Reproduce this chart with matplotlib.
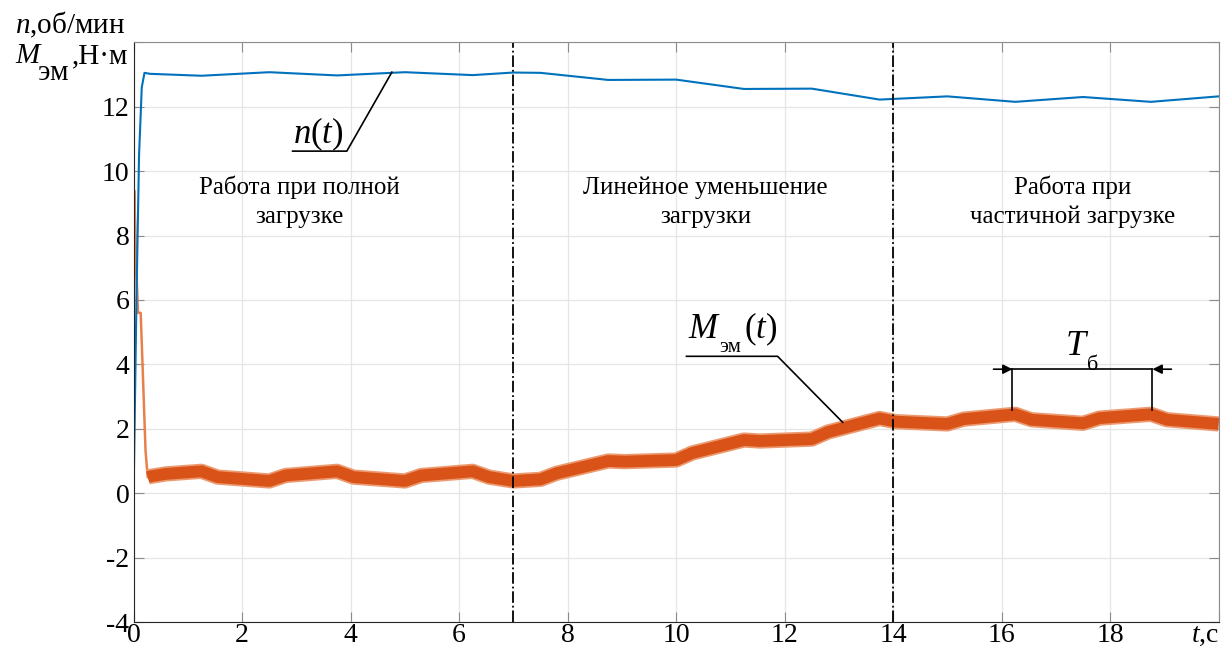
import matplotlib
matplotlib.use("Agg")
import matplotlib.pyplot as plt

plt.rcParams['font.family'] = ['Liberation Serif', 'DejaVu Serif']
plt.rcParams['mathtext.fontset'] = 'custom'
plt.rcParams['mathtext.rm'] = 'Liberation Serif'
plt.rcParams['mathtext.it'] = 'Liberation Serif:italic'

# speed n(t)
t_n = [0, 0.05, 0.1, 0.15, 0.2, 0.3, 1.25, 2.5, 3.75, 5.0, 6.25, 7.0, 7.5,
       8.75, 10.0, 11.25, 12.5, 13.75, 15.0, 16.25, 17.5, 18.75, 20.0]
n_val = [0, 5.8, 10.5, 12.6, 13.05, 13.02, 12.96, 13.07, 12.97, 13.07, 12.98, 13.06, 13.05,
         12.83, 12.84, 12.55, 12.56, 12.22, 12.32, 12.15, 12.3, 12.15, 12.32]

# torque start-up transient
t_m0 = [0, 0.01, 0.05, 0.08, 0.13, 0.17, 0.22, 0.26]
m_m0 = [0, 9.4, 7.0, 5.6, 5.6, 3.7, 1.3, 0.5]

# torque M_эм(t), band centre
t_m = [0.26, 0.3, 0.6, 1.25, 1.55, 2.5, 2.8, 3.75, 4.05, 5.0, 5.3, 6.25, 6.55, 7.0, 7.5,
       7.8, 8.75, 9.05, 10.0, 10.3, 11.25, 11.55, 12.5, 12.8, 13.75, 14.05, 15.0,
       15.3, 16.25, 16.55, 17.5, 17.8, 18.75, 19.05, 20.0]
m_m = [0.5, 0.52, 0.6, 0.68, 0.5, 0.38, 0.55, 0.68, 0.5, 0.38, 0.55, 0.68, 0.5, 0.38, 0.43,
       0.62, 1.0, 0.98, 1.03, 1.25, 1.65, 1.62, 1.68, 1.9, 2.32, 2.22, 2.15,
       2.3, 2.45, 2.28, 2.17, 2.33, 2.45, 2.28, 2.15]

x_ticks = [0, 2, 4, 6, 8, 10, 12, 14, 16, 18, 20]
x_labels = ['0', '2', '4', '6', '8', '10', '12', '14', '16', '18', r'$t$,c']
y_ticks = [-4, -2, 0, 2, 4, 6, 8, 10, 12, 14]
y_labels = ['-4', '-2', '0', '2', '4', '6', '8', '10', '12', '']

fig = plt.figure(figsize=(12.26, 6.5), dpi=100)
ax = fig.add_axes([0.109, 0.043, 0.885, 0.892])

ax.plot(t_m0, m_m0, color='#E8804A', lw=1.8)
ax.plot(t_m, m_m, color='#EC9A70', lw=11, solid_capstyle='butt', solid_joinstyle='round')
ax.plot(t_m, m_m, color='#D95319', lw=8.5, solid_capstyle='butt', solid_joinstyle='round')
ax.plot(t_n, n_val, color='#0072BD', lw=1.5)

# section borders
for xv in [7, 14]:
    ax.axvline(xv, color='black', lw=1.3, linestyle='-.')

ax.set_xlim(0, 20)
ax.set_ylim(-4, 14)
ax.set_xticks(x_ticks)
ax.set_xticklabels(x_labels)
ax.set_yticks(y_ticks)
ax.set_yticklabels(y_labels)
ax.tick_params(direction='in', labelsize=20, length=7, color='#8C8C8C',
               top=True, right=True, pad=1)
ax.tick_params(axis='y', pad=3)
ax.get_xticklabels()[-1].set_horizontalalignment('right')
ax.grid(True, color='#E6E6E6', lw=0.9)
ax.set_axisbelow(True)
for s in ['left', 'bottom']:
    ax.spines[s].set_color('#262626')
for s in ['top', 'right']:
    ax.spines[s].set_color('#8C8C8C')

# section captions
cap = dict(ha='center', va='baseline', fontsize=18)
ax.text(3.06, 9.29, 'Работа при полной', **cap)
ax.text(3.06, 8.39, 'загрузке', **cap)
ax.text(10.54, 9.29, 'Линейное уменьшение', **cap)
ax.text(10.54, 8.39, 'загрузки', **cap)
ax.text(17.31, 9.29, 'Работа при', **cap)
ax.text(17.31, 8.39, 'частичной загрузке', **cap)

# n(t) label with leader
ax.text(2.93, 10.87, r'$n(t)$', ha='left', va='baseline', fontsize=25)
ax.plot([2.93, 3.93, 4.76], [10.62, 10.62, 13.07], color='black', lw=1.2)

# M(t) label with leader
ax.text(10.21, 4.81, r'$M$', ha='left', va='baseline', fontsize=25)
ax.annotate('эм', xy=(10.21, 4.81), xytext=(23, -10), textcoords='offset points',
            ha='left', va='baseline', fontsize=15)
ax.annotate(r'$(t)$', xy=(10.21, 4.81), xytext=(41, 0), textcoords='offset points',
            ha='left', va='baseline', fontsize=25)
ax.plot([10.19, 11.87, 13.07], [4.25, 4.25, 2.2], color='black', lw=1.2)

# T_б period mark
ax.plot([16.2, 16.2], [2.58, 3.85], color='black', lw=1.2)
ax.plot([18.78, 18.78], [2.58, 3.85], color='black', lw=1.2)
ax.plot([16.2, 18.78], [3.85, 3.85], color='black', lw=1.2)
ax.annotate('', xy=(16.2, 3.85), xytext=(15.85, 3.85),
            arrowprops=dict(arrowstyle='-|>', color='black', lw=1.2, mutation_scale=14, shrinkA=0, shrinkB=0))
ax.annotate('', xy=(18.78, 3.85), xytext=(19.13, 3.85),
            arrowprops=dict(arrowstyle='-|>', color='black', lw=1.2, mutation_scale=14, shrinkA=0, shrinkB=0))
ax.text(17.16, 4.3, r'$T$', ha='left', va='baseline', fontsize=26)
ax.annotate('б', xy=(17.16, 4.3), xytext=(16, -11), textcoords='offset points',
            ha='left', va='baseline', fontsize=16)

# axis names
W, H = 1226.0, 650.0
fig.text(15 / W, 1 - 33 / H, r'$n$,об/мин', ha='left', va='baseline', fontsize=21)
fig.text(15 / W, 1 - 63 / H, r'$M$', ha='left', va='baseline', fontsize=21)
fig.text(38 / W, 1 - 80 / H, 'эм', ha='left', va='baseline', fontsize=21)
fig.text(72 / W, 1 - 63 / H, ',Н·м', ha='left', va='baseline', fontsize=21)

fig.savefig('out.png', dpi=100)
